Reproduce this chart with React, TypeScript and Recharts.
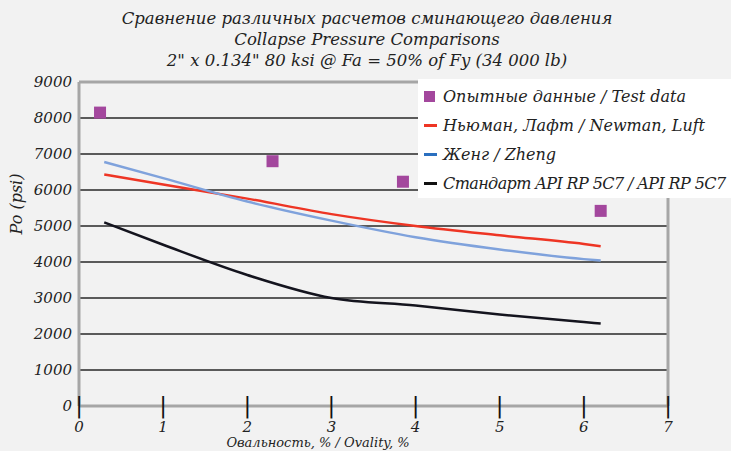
import React from "react";
import {
  ComposedChart,
  Line,
  Scatter,
  XAxis,
  YAxis,
  CartesianGrid,
  ReferenceLine,
} from "recharts";

const FONT = "DejaVu Serif, serif";

const titleLines = [
  "Сравнение различных расчетов сминающего давления",
  "Collapse Pressure Comparisons",
  "2\" x 0.134\" 80 ksi @ Fa = 50% of Fy (34 000 lb)",
];

const xTicks = [0, 1, 2, 3, 4, 5, 6, 7];
const yTicks = [0, 1000, 2000, 3000, 4000, 5000, 6000, 7000, 8000, 9000];

// test data points
const testX = [0.25, 2.3, 3.85, 6.2];
const testY = [8150, 6800, 6230, 5420];

// calculated curves share the same ovality points
const curveX = [0.3, 1, 2, 3, 4, 5, 6, 6.2];
const newmanLuft = [6430, 6150, 5760, 5330, 5000, 4740, 4500, 4440];
const zheng = [6780, 6330, 5680, 5150, 4690, 4350, 4080, 4040];
const apiRp5c7 = [5100, 4480, 3640, 3000, 2790, 2540, 2330, 2290];

const testData = testX.map((x, i) => ({ x, y: testY[i] }));
const toPoints = (ys: number[]) => curveX.map((x, i) => ({ x, y: ys[i] }));

const series = [
  { key: "newman", name: "Ньюман, Лафт / Newman, Luft", color: "#ee3524", legendColor: "#ee3524", data: toPoints(newmanLuft) },
  { key: "zheng", name: "Женг / Zheng", color: "#7fa2dc", legendColor: "#2a6fbf", data: toPoints(zheng) },
  { key: "api", name: "Стандарт API RP 5C7 / API RP 5C7", color: "#14141e", legendColor: "#111", data: toPoints(apiRp5c7) },
];

const TEST_COLOR = "#a3479d";
const TEST_NAME = "Опытные данные / Test data";

function SquareDot(props: any) {
  const { cx, cy } = props;
  if (cx == null || cy == null) return null;
  return <rect x={cx - 6} y={cy - 6} width={12} height={12} fill={TEST_COLOR} />;
}

// tick mark crossing the axis line (drawn as a bar glyph), label below
function XTick(props: any) {
  const x = Number(props.x);
  const y = Number(props.y);
  return (
    <g>
      <text x={x} y={y + 7} textAnchor="middle" fontFamily={FONT} fontSize={23} fill="#111">
        |
      </text>
      <text x={x} y={y + 26} textAnchor="middle" fontFamily={FONT} fontStyle="italic" fontSize={15} fill="#222">
        {props.payload.value}
      </text>
    </g>
  );
}

function YTick(props: any) {
  const { x, y, payload } = props;
  return (
    <text x={x} y={y + 5} textAnchor="end" fontFamily={FONT} fontStyle="italic" fontSize={15} fill="#222">
      {payload.value}
    </text>
  );
}

function YLabel() {
  return (
    <text
      x={22}
      y={204}
      transform="rotate(-90, 22, 204)"
      textAnchor="middle"
      fontFamily={FONT}
      fontStyle="italic"
      fontSize={16}
      fill="#222"
    >
      Po (psi)
    </text>
  );
}

function LegendBox() {
  const rows = [
    { name: TEST_NAME, color: TEST_COLOR, square: true },
    ...series.map((s) => ({ name: s.name, color: s.legendColor, square: false })),
  ];
  return (
    <div
      style={{
        position: "absolute",
        left: 418,
        top: 79,
        background: "#fff",
        width: 313,
        height: 119,
        padding: "3px 0 0 6px",
        boxSizing: "border-box",
      }}
    >
      {rows.map((r) => (
        <div
          key={r.name}
          style={{
            display: "flex",
            alignItems: "center",
            height: 29,
            fontFamily: FONT,
            fontStyle: "italic",
            fontSize: 16,
            color: "#222",
            letterSpacing: r.name.length > 30 ? "-0.6px" : "0px",
          }}
        >
          {r.square ? (
            <span style={{ flexShrink: 0, display: "inline-block", width: 11, height: 11, background: r.color, marginRight: 8 }} />
          ) : (
            <span style={{ flexShrink: 0, display: "inline-block", width: 13, height: 3, background: r.color, marginRight: 6 }} />
          )}
          <span style={{ whiteSpace: "nowrap" }}>{r.name}</span>
        </div>
      ))}
    </div>
  );
}

export default function App() {
  return (
    <div style={{ position: "absolute", left: 0, top: 0, width: 731, height: 451, background: "#f2f2f2", overflow: "hidden" }}>
      <div
        style={{
          position: "absolute",
          left: 0,
          top: 8,
          width: 734,
          textAlign: "center",
          fontFamily: FONT,
          fontStyle: "italic",
          fontSize: 16.5,
          lineHeight: "21px",
          color: "#222",
        }}
      >
        {titleLines.map((t) => (
          <div key={t}>{t}</div>
        ))}
      </div>
      <div style={{ position: "absolute", left: 0, top: 0, width: 731, height: 451 }}>
        <ComposedChart width={731} height={451} margin={{ top: 82, right: 63, bottom: 0, left: 0 }}>
          <CartesianGrid horizontal vertical={false} stroke="#5a5a5a" strokeWidth={2} />
          <XAxis
            type="number"
            dataKey="x"
            domain={[0, 7]}
            ticks={xTicks}
            interval={0}
            tickSize={0}
            tickMargin={0}
            tickLine={false}
            tick={<XTick />}
            axisLine={{ stroke: "#a6a6a6", strokeWidth: 3 }}
            allowDuplicatedCategory={false}
            height={45}
          />
          <YAxis
            type="number"
            domain={[0, 9000]}
            ticks={yTicks}
            interval={0}
            width={79}
            tickSize={0}
            tickMargin={7}
            tickLine={false}
            tick={<YTick />}
            axisLine={{ stroke: "#a6a6a6", strokeWidth: 3 }}
            label={<YLabel />}
          />
          <ReferenceLine y={9000} stroke="#a6a6a6" strokeWidth={3} />
          <ReferenceLine x={7} stroke="#a6a6a6" strokeWidth={3} />
          {series.map((s) => (
            <Line
              key={s.key}
              data={s.data}
              dataKey="y"
              name={s.name}
              type="monotone"
              stroke={s.color}
              strokeWidth={2.5}
              dot={false}
              activeDot={false}
              isAnimationActive={false}
            />
          ))}
          <Scatter data={testData} dataKey="y" name={TEST_NAME} fill={TEST_COLOR} shape={<SquareDot />} isAnimationActive={false} />
        </ComposedChart>
      </div>
      <LegendBox />
      <div
        style={{
          position: "absolute",
          left: 0,
          top: 435,
          width: 636,
          textAlign: "center",
          fontFamily: FONT,
          fontStyle: "italic",
          fontSize: 13,
          lineHeight: "16px",
          color: "#222",
        }}
      >
        Овальность, % / Ovality, %
      </div>
    </div>
  );
}
